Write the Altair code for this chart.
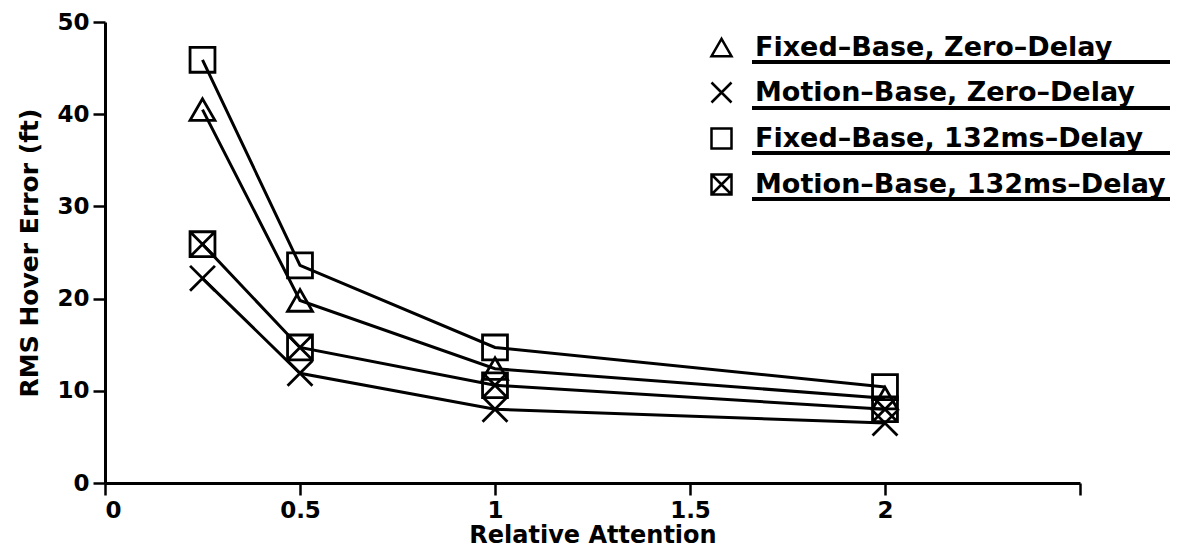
import altair as alt
import pandas as pd

attention = [0.25, 0.5, 1, 2]
series_names = [
    "Fixed–Base, Zero–Delay",
    "Motion–Base, Zero–Delay",
    "Fixed–Base, 132ms–Delay",
    "Motion–Base, 132ms–Delay",
]
fixed_zero = [40.5, 19.8, 12.4, 9.2]
motion_zero = [22.2, 11.9, 8.0, 6.5]
fixed_132 = [45.9, 23.6, 14.7, 10.4]
motion_132 = [25.9, 14.7, 10.6, 8.0]
y_ticks = [0, 10, 20, 30, 40, 50]
x_ticks = [0, 0.5, 1, 1.5, 2, 2.5]

rows = []
for name, vals in zip(series_names, [fixed_zero, motion_zero, fixed_132, motion_132]):
    for a, v in zip(attention, vals):
        rows.append({"series": name, "attention": a, "error": v})
df = pd.DataFrame(rows)

shapes = [
    "triangle-up",
    "M-1,-1L1,1M1,-1L-1,1",
    "square",
    "M-1,-1H1V1H-1ZM-1,-1L1,1M1,-1L-1,1",
]

FONT = "DejaVu Sans"
W, H = 975, 461

x = alt.X("attention:Q", scale=alt.Scale(domain=[0, 2.5], nice=False),
          axis=alt.Axis(values=x_ticks, title="Relative Attention",
                        labelExpr="datum.value == 2.5 ? '' : '' + datum.value",
                        labelFontSize=23, titlePadding=1, titleFontSize=24))
y = alt.Y("error:Q", scale=alt.Scale(domain=[0, 50], nice=False),
          axis=alt.Axis(values=y_ticks, title="RMS Hover Error (ft)",
                        labelFontSize=23, titlePadding=14))

lines = alt.Chart(df).mark_line(color="black", strokeWidth=3).encode(
    x=x, y=y, detail="series:N")

points = alt.Chart(df).mark_point(filled=False, color="black", strokeWidth=2.8, size=620, opacity=1).encode(
    x=x, y=y,
    shape=alt.Shape("series:N", sort=series_names,
                    scale=alt.Scale(domain=series_names, range=shapes),
                    legend=alt.Legend(orient="none", legendX=603, legendY=12, title=None,
                                      labelFont=FONT, labelFontWeight="bold", labelFontSize=27,
                                      labelColor="black", labelLimit=0, symbolSize=400,
                                      symbolStrokeWidth=2.5,
                                      symbolStrokeColor="black", symbolFillColor="transparent",
                                      rowPadding=15, labelOffset=20, padding=0)))

underline_y = [40, 86, 131, 177]
rules = [alt.Chart(df).mark_rule(color="black", strokeWidth=2.5).encode(
    x=alt.value(647), x2=alt.value(1065), y=alt.value(uy)) for uy in underline_y]

chart = alt.layer(lines, points, *rules).properties(
    width=W, height=H,
    autosize=alt.AutoSizeParams(type="none"),
    padding={"left": 97, "top": 14, "right": 90, "bottom": 68},
).configure_view(stroke=None).configure_axis(
    grid=False, domainColor="black", domainWidth=3, tickColor="black", tickWidth=2.5,
    tickSize=12, labelFont=FONT, labelFontWeight="bold", labelColor="black",
    titleFont=FONT, titleFontWeight="bold", titleFontSize=25, titleColor="black", labelPadding=4,
)

chart.save("out.html", embed_options={"renderer": "svg", "actions": False})
